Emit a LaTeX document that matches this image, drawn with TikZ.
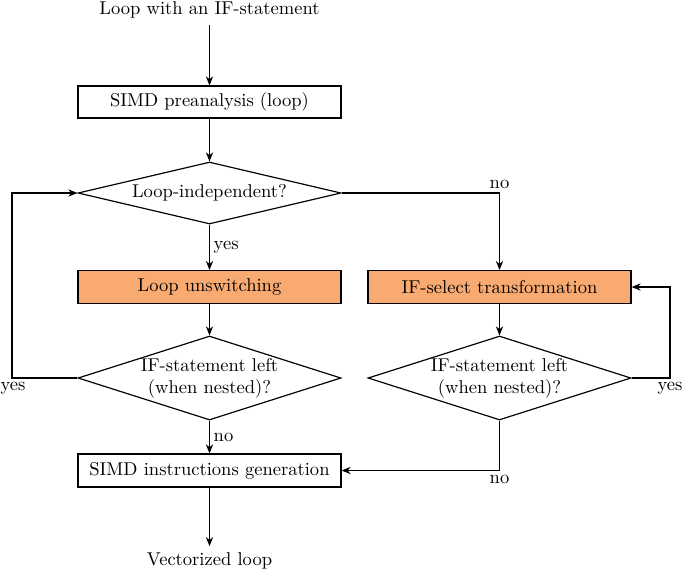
\documentclass[tikz,border=0pt]{standalone}
\usetikzlibrary{shapes.geometric,arrows.meta}
\definecolor{boxorange}{RGB}{249,170,112}
\begin{document}
\begin{tikzpicture}[x=0.55pt,y=-0.55pt,
  every node/.style={font=\fontsize{10.2}{12.2}\selectfont},
  line width=0.65pt,
  arr/.style={-{Stealth[length=5pt,width=4pt]}},
  procbox/.style={draw,rectangle,minimum width=144.65pt,minimum height=18pt,inner sep=2pt},
  hot/.style={procbox,fill=boxorange},
  decide/.style={draw,diamond,inner sep=0pt,align=center,minimum width=144.65pt},
  lbl/.style={inner sep=2pt}]
\useasboundingbox (0,0) rectangle (685,571);
\node (start) at (209.5,10) {Loop with an IF-statement};
\node[procbox,minimum height=17.6pt] (pre) at (209.5,102) {SIMD preanalysis (loop)};
\node[decide,minimum height=34.1pt,shape aspect=4.24] (d1) at (209.5,193) {Loop-independent?};
\node[hot] (unsw) at (209.5,287) {Loop unswitching};
\node[hot] (ifsel) at (499.5,287) {IF-select transformation};
\node[decide,minimum height=46.2pt,shape aspect=3.13] (d2) at (209.5,378) {IF-statement left\\(when nested)?};
\node[decide,minimum height=46.2pt,shape aspect=3.13] (d3) at (499.5,378) {IF-statement left\\(when nested)?};
\node[procbox,minimum height=18.2pt] (gen) at (209.5,470.5) {SIMD instructions generation};
\node (stop) at (209.5,561) {Vectorized loop};

\coordinate (c1) at (499.5,193);
\coordinate (c2) at (12,378);
\coordinate (c3) at (670,378);
\coordinate (c4) at (499.5,470.5);

\draw[arr] (start) -- (pre);
\draw[arr] (pre) -- (d1);
\draw[arr] (d1) -- node[lbl,right] {yes} (unsw);
\draw[arr] (d1.east) -- (c1) -- (ifsel.north);
\node[lbl,anchor=south] (lno1) at (c1) {no};
\draw[arr] (unsw) -- (d2);
\draw[arr] (ifsel) -- (d3);
\draw[arr] (d2.west) -- (c2) |- (d1.west);
\node[lbl,anchor=north,xshift=0.6pt] (lyes1) at (c2) {yes};
\draw[arr] (d3.east) -- (c3) |- (ifsel.east);
\node[lbl,anchor=north] (lyes2) at (c3) {yes};
\draw[arr] (d2) -- node[lbl,right] {no} (gen);
\draw[arr] (d3.south) -- (c4) -- (gen.east);
\node[lbl,anchor=north] (lno2) at (c4) {no};
\draw[arr] (gen) -- (stop);
\end{tikzpicture}
\end{document}
